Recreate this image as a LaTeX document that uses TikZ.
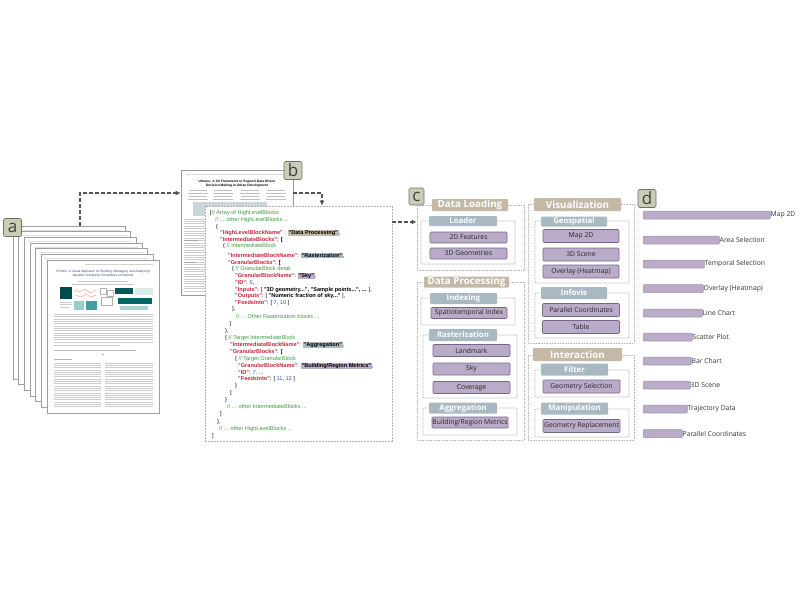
\documentclass[tikz,border=0pt]{standalone}
\usepackage{fontspec}
\setmainfont{Open Sans}
\newfontfamily\codefont{Liberation Sans}
\usepackage{xcolor}
\usetikzlibrary{arrows.meta}

\definecolor{tanhdr}{HTML}{C4B9A6}
\definecolor{bluehdr}{HTML}{A9B9C4}
\definecolor{lilac}{HTML}{BAABC8}
\definecolor{lilacdark}{HTML}{76678A}
\definecolor{tagfill}{HTML}{C9CDB5}
\definecolor{tagline}{HTML}{6F7263}
\definecolor{cmtgreen}{HTML}{3E9B3E}
\definecolor{keyred}{HTML}{C0283A}
\definecolor{numblue}{HTML}{2A55C8}
\definecolor{inkgray}{HTML}{555555}
\definecolor{titleblue}{HTML}{34486E}

\newcommand\cmt[1]{\textcolor{cmtgreen}{#1}}
\newcommand\ky[1]{\textcolor{keyred}{\bfseries"#1"}}
\newcommand\cnum[1]{\textcolor{numblue}{#1}}
\newcommand\strhl[2]{{\setlength{\fboxsep}{0.7pt}\colorbox{#1}{\bfseries"#2"}}}

\tikzset{
  tag/.style={draw=tagline, fill=tagfill, line width=0.6pt, rounded corners=1.5pt, inner sep=0pt,
    minimum width=18pt, minimum height=18pt, font=\fontsize{17}{17}\selectfont, text=black!75},
  paper/.style={draw=gray!75, fill=white, line width=0.7pt, inner sep=0pt},
  flow/.style={dash pattern=on 4pt off 2pt, line width=1.1pt, draw=inkgray, -{Latex[length=5pt,width=5pt]}},
  grp/.style={draw=gray!55, densely dotted, line width=0.6pt, inner sep=0pt},
  sub/.style={draw=gray!40, line width=0.8pt, rounded corners=1pt, inner sep=0pt},
  hdr/.style={fill=tanhdr, rounded corners=1pt, text=white, font=\fontsize{9.8}{10}\selectfont\bfseries,
    inner sep=0pt, minimum height=12pt},
  subhdr/.style={fill=bluehdr, rounded corners=1pt, text=white, font=\fontsize{7.8}{8}\selectfont\bfseries,
    inner sep=0pt, minimum height=11pt, minimum width=67pt},
  item/.style={draw=lilacdark, fill=lilac, line width=0.6pt, rounded corners=1pt, font=\fontsize{6.8}{7}\selectfont,
    text=black!85, inner sep=0pt, minimum width=77pt, minimum height=12pt},
  bar/.style={draw=lilacdark!70, fill=lilac, line width=0.5pt, rounded corners=0.8pt, minimum height=8pt,
    inner sep=0pt, anchor=west},
  code/.style={anchor=west, inner sep=0pt, font=\codefont\fontsize{5.6}{6}\selectfont, text height=4.2pt, text depth=1.2pt},
  txt/.style={draw=gray!40, line width=0.8pt},
}

\begin{document}
\begin{tikzpicture}[x=1pt,y=-1pt]
\useasboundingbox (0,0) rectangle (800,600);

% (a) stack of papers
\foreach \i in {0,...,5}{
  \node[paper, minimum width=112pt, minimum height=153pt] (pA\i) at ({69+5.67*\i},{302.5+5.67*\i}) {};
  \draw[txt, gray!25, line width=0.5pt] ({17+5.67*\i},{230+5.67*\i}) -- ({121+5.67*\i},{230+5.67*\i});
}
\node[paper, minimum width=112pt, minimum height=153pt] (pA6) at (103,336.5) {};
\draw[txt, gray!35, line width=0.5pt] (85,264.5) -- (153,264.5);
\node[font=\codefont\fontsize{3.2}{3.9}\selectfont, text=titleblue, align=center, inner sep=0pt] (titleA) at (103,273.5)
  {ProWis: A Visual Approach for Building, Managing, and Analyzing\\Weather Simulation Ensembles at Runtime};
\draw[txt, gray!45, line width=0.6pt] (78,281) -- (128,281) (72,284) -- (134,284);
% teaser
\fill[teal!60!black] (60,287) rectangle (72,299);
\draw[txt, line width=0.5pt] (60,302) -- (72,302) (60,304.5) -- (72,304.5) (60,307) -- (70,307);
\draw[red!45, line width=0.4pt] (75,290) -- (80,292) -- (85,289) -- (90,293) -- (96,290)
  (75,295) -- (81,297) -- (86,294) -- (91,297) -- (96,295);
\fill[teal!40] (74,301) rectangle (84,310);
\fill[teal!75] (86,301) rectangle (97,310);
\draw[gray!60, line width=0.3pt] (100,288) rectangle (106,294) (107,290) rectangle (113,296) (101,297) rectangle (112,305);
\fill[teal!70!black] (115,288) rectangle (133,294);
\fill[teal!15] (135,288) rectangle (153,295);
\fill[teal!80!black] (118,298) rectangle (152,304);
\fill[teal!35] (120,305.5) rectangle (148,310);
% abstract and body
\foreach \k in {0,...,12} \draw[txt] (54,{314.5+2.3*\k}) -- (153,{314.5+2.3*\k});
\draw[txt] (54,345.5) -- (120,345.5);
\draw[txt, gray!55, line width=0.6pt] (54,350) -- (136,350);
\fill[gray!70] (103,354.5) circle (0.9pt);
\draw[txt, gray!60] (54,359) -- (72,359);
\foreach \k in {0,...,19}{
  \draw[txt] (54,{363+2.3*\k}) -- (101,{363+2.3*\k});
  \draw[txt] (105,{363+2.3*\k}) -- (153,{363+2.3*\k});
}
\node[tag] (tagA) at (12.5,227.5) {a};

% (b) paper with its block description
\node[paper, draw=gray!80, minimum width=112pt, minimum height=125pt] (pB) at (237,232.5) {};
\draw[txt, gray!30, line width=0.5pt] (186,174) -- (288,174);
\node[font=\codefont\bfseries\fontsize{3.3}{4}\selectfont, align=center, inner sep=0pt] (titleB) at (237,183.5)
  {Urbane: A 3D Framework to Support Data Driven\\Decision Making in Urban Development};
\foreach \c in {198,223,250,276}{
  \draw[txt, gray!50, line width=0.5pt] ({\c-9},190.5) -- ({\c+9},190.5) ({\c-10},193) -- ({\c+10},193);
  \draw[txt, gray!50, line width=0.5pt] ({\c-9},196.5) -- ({\c+9},196.5) ({\c-10},199) -- ({\c+10},199);
}
\fill[bluehdr!60] (193,202) rectangle (267,216);
\foreach \k in {0,...,30} \draw[txt] (184,{219+2.4*\k}) -- (206,{219+2.4*\k});
\draw[txt, gray!70] (184,240) -- (198,240) (184,262) -- (196,262);

\node[draw=gray!60, dash pattern=on 2pt off 1pt, line width=0.6pt, fill=white, inner sep=0pt,
  minimum width=187pt, minimum height=235pt] (codebox) at (298.5,323.5) {};
\node[code] (l1) at (210,213) {[\cmt{// Array of HighLevelBlocks}};
\node[code] (l2) at (215,220) {\cmt{// ... other HighLevelBlocks ...}};
\node[code] (l3) at (216,227) {\{};
\node[code] (l4) at (220,233) {\ky{HighLevelBlockName} : \strhl{tanhdr}{Data Processing},};
\node[code] (l5) at (220,239.5) {\ky{IntermediateBlocks}: \textbf{[}};
\node[code] (l6) at (223,246) {\{ \cmt{// IntermediateBlock}};
\node[code] (l7) at (228,256) {\ky{IntermediateBlockName}: \strhl{bluehdr}{Rasterization},};
\node[code] (l8) at (228,262.5) {\ky{GranularBlocks}: \textbf{[}};
\node[code] (l9) at (232,269) {\{ \cmt{// GranularBlock detail}};
\node[code] (l10) at (235,276) {\ky{GranularBlockName}: \strhl{lilac}{Sky},};
\node[code] (l11) at (235,283) {\ky{ID}: \cnum{5},};
\node[code] (l12) at (235,289.5) {\ky{Inputs}: [ \textbf{"3D geometry...", "Sample points...", ...} ],};
\node[code] (l13) at (235,296) {\ky{Outputs}: [ \textbf{"Numeric fraction of sky..."} ],};
\node[code] (l14) at (235,302.5) {\ky{FeedsInto}: [ \cnum{7}, \cnum{10} ]};
\node[code] (l15) at (232,309) {\},};
\node[code] (l16) at (236,317) {\cmt{// ... Other Rasterization blocks ...}};
\node[code] (l17) at (229.5,324) {]};
\node[code] (l18) at (225,331) {\},};
\node[code] (l19) at (225,338) {\{ \cmt{// Target IntermediateBlock}};
\node[code] (l20) at (230,345) {\ky{IntermediateBlockName}: \strhl{bluehdr}{Aggregation},};
\node[code] (l21) at (230,352) {\ky{GranularBlocks}: \textbf{[}};
\node[code] (l22) at (235,359) {\{ \cmt{// Target GranularBlock}};
\node[code] (l23) at (238,366) {\ky{GranularBlockName}: \strhl{lilac}{Building/Region Metrics},};
\node[code] (l24) at (238,372.5) {\ky{ID}: \cnum{7, ...}};
\node[code] (l25) at (238,379) {\ky{FeedsInto}: [ \cnum{11}, \cnum{12} ]};
\node[code] (l26) at (235,386) {\}};
\node[code] (l27) at (230,393) {]};
\node[code] (l28) at (225,399.5) {\}};
\node[code] (l29) at (227,407) {\cmt{// ... other IntermediateBlocks ...}};
\node[code] (l30) at (220,414) {]};
\node[code] (l31) at (217,422) {\},};
\node[code] (l32) at (219,428.5) {\cmt{// ... other HighLevelBlocks ...}};
\node[code] (l33) at (212,436) {]};
\node[tag] (tagB) at (293,170.5) {b};

% (c) block hierarchy
\node[grp, minimum width=107pt, minimum height=65pt] (grpDL) at (470.5,237.5) {};
\node[hdr, minimum width=76pt] (hdrDL) at (470,205) {Data Loading};
\node[sub, minimum width=94pt, minimum height=43pt] (subLoad) at (468,242.5) {};
\node[subhdr, minimum width=68pt, minimum height=10pt] (shLoad) at (463,221) {Loader};
\node[item, minimum height=11pt] (it2D) at (468.5,237.5) {2D Features};
\node[item, minimum height=11pt] (it3D) at (468.5,253.5) {3D Geometries};

\node[grp, minimum width=107pt, minimum height=158pt] (grpDP) at (470.5,361) {};
\node[hdr, minimum width=85pt, minimum height=11pt] (hdrDP) at (466.5,282) {Data Processing};
\node[sub, minimum width=94pt, minimum height=27pt] (subIdx) at (468,311.5) {};
\node[subhdr] (shIdx) at (463.5,298.5) {Indexing};
\node[item, minimum width=76pt, minimum height=11pt] (itSpat) at (469,313) {Spatiotemporal Index};
\node[sub, minimum width=94pt, minimum height=63pt] (subRas) at (470,366.5) {};
\node[subhdr, minimum width=68pt, minimum height=12pt] (shRas) at (463,335) {Rasterization};
\node[item] (itLand) at (471.5,350.5) {Landmark};
\node[item] (itSky) at (471.5,369) {Sky};
\node[item] (itCov) at (471.5,387.5) {Coverage};
\node[sub, minimum width=94pt, minimum height=27pt] (subAgg) at (470,421.5) {};
\node[subhdr, minimum width=68pt] (shAgg) at (463,408) {Aggregation};
\node[item, minimum width=76pt, minimum height=11pt] (itBRM) at (470,422.5) {Building/Region Metrics};

\node[grp, minimum width=106pt, minimum height=139pt] (grpVis) at (581,273.5) {};
\node[hdr, minimum width=87pt, minimum height=13pt] (hdrVis) at (577.5,204.5) {Visualization};
\node[sub, minimum width=94pt, minimum height=62pt] (subGeo) at (582,252) {};
\node[subhdr, minimum width=66pt, minimum height=10pt] (shGeo) at (574,221.5) {Geospatial};
\node[item, minimum width=76pt, minimum height=13pt] (itMap) at (581,236) {Map 2D};
\node[item, minimum width=76pt, minimum height=13pt] (it3DS) at (581,254.5) {3D Scene};
\node[item, minimum width=76pt, minimum height=13pt] (itOver) at (581,271.5) {Overlay (Heatmap)};
\node[sub, minimum width=94pt, minimum height=45pt] (subInf) at (582,315.5) {};
\node[subhdr, minimum width=66pt, minimum height=12pt] (shInf) at (574,293) {Infovis};
\node[item, minimum height=13pt] (itPar) at (581,310) {Parallel Coordinates};
\node[item, minimum height=13pt] (itTab) at (581,327) {Table};

\node[grp, minimum width=106pt, minimum height=85pt] (grpInt) at (581,397.5) {};
\node[hdr, minimum width=89pt, minimum height=13pt] (hdrInt) at (577.5,354.5) {Interaction};
\node[sub, minimum width=94pt, minimum height=27pt] (subFil) at (582,383.5) {};
\node[subhdr, minimum height=12pt] (shFil) at (574.5,369.5) {Filter};
\node[item, minimum height=13pt] (itGSel) at (581.5,386.5) {Geometry Selection};
\node[sub, minimum width=94pt, minimum height=28pt] (subMan) at (582,423) {};
\node[subhdr, minimum height=12pt] (shMan) at (574.5,408.5) {Manipulation};
\node[item, minimum height=13pt] (itGRep) at (581.5,426) {Geometry Replacement};
\node[tag, minimum width=15pt, minimum height=17pt] (tagC) at (416.5,196.5) {c};

% (d) frequency of granular blocks
\foreach \w/\y/\t [count=\i] in {127/215/Map 2D, 76/240/Area Selection, 61/264/Temporal Selection,
  60/288.5/Overlay (Heatmap), 59/313/Line Chart, 49/337/Scatter Plot, 48/361/Bar Chart,
  47/385/3D Scene, 44/409/Trajectory Data, 39/433.5/Parallel Coordinates}{
  \node[bar, minimum width=\w pt] (bar\i) at (643,\y) {};
  \node[anchor=west, inner sep=0pt, font=\fontsize{6.8}{7}\selectfont, text=black!80] (lab\i) at (bar\i.east) {\t};
}
\node[tag] (tagD) at (647,198.5) {d};

% flow between the steps
\draw[flow] ([xshift=11pt]pA0.north) |- ([yshift=39.5pt]pB.west);
\draw[flow] ([yshift=39.5pt]pB.east) -| ([xshift=23.5pt]codebox.north);
\draw[flow] ([yshift=101.5pt]codebox.east) -- ([yshift=101.5pt]codebox.east -| grpDL.west);
\end{tikzpicture}
\end{document}
